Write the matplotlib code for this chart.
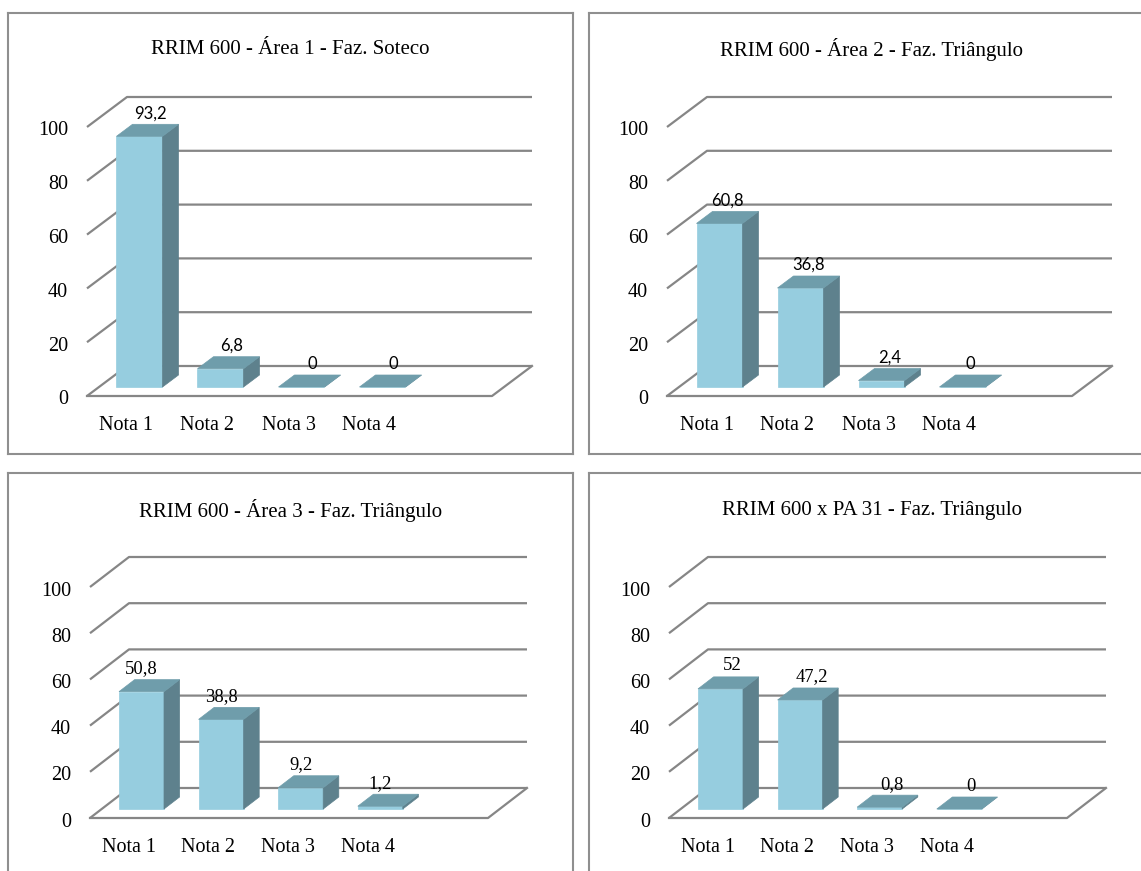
import matplotlib.pyplot as plt
from matplotlib.patches import Polygon

# dados dos quatro gráficos (porcentagem de plantas por nota)
categorias = ["Nota 1", "Nota 2", "Nota 3", "Nota 4"]
titulos = [
    "RRIM 600 - Área 1 - Faz. Soteco",
    "RRIM 600 - Área 2 - Faz. Triângulo",
    "RRIM 600 - Área 3 - Faz. Triângulo",
    "RRIM 600 x PA 31 - Faz. Triângulo",
]
area1 = [93.2, 6.8, 0, 0]
area2 = [60.8, 36.8, 2.4, 0]
area3 = [50.8, 38.8, 9.2, 1.2]
pa31 = [52, 47.2, 0.8, 0]
yticks = [0, 20, 40, 60, 80, 100]

series = [area1, area2, area3, pa31]

# cores das faces das colunas 3D
COR_FRENTE = "#96cddf"
COR_TOPO = "#6f9dab"
COR_LADO = "#5e818d"
COR_GRADE = "#868686"
COR_BORDA = "#8f8f8f"

SERIF = "Liberation Serif"
SANS = "Lato"

W_FIG, H_FIG = 1141, 871

# caixa (esq, topo, dir, base) em pixels, origem do piso, largura da categoria,
# pixels por unidade, profundidade (dx, dy), fonte dos rótulos e deslocamento
paineis = [
    dict(box=(8, 13, 573, 454), origem=(87, 396), slot=81, k=2.69, prof=(40, 30),
         fonte=SANS, fs=12, dx=11, bw=46),
    dict(box=(589, 13, 1154, 454), origem=(667, 396), slot=81, k=2.69, prof=(40, 30),
         fonte=SANS, fs=12, dx=8, bw=46),
    dict(box=(8, 473, 573, 914), origem=(90, 818), slot=79.6, k=2.31, prof=(39, 30),
         fonte=SERIF, fs=13.4, dx=0, bw=45),
    dict(box=(589, 473, 1154, 914), origem=(669, 818), slot=79.6, k=2.31, prof=(39, 30),
         fonte=SERIF, fs=13.4, dx=12, bw=45),
]

N_SLOTS = 5      # largura do piso em categorias
D0, D1 = 0.3, 0.7  # faixa de profundidade ocupada pelas colunas


def fmt(v):
    return f"{v:g}".replace(".", ",")


def grafico(fig, cfg, valores, titulo):
    L, T, R, B = cfg["box"]
    x0, y0 = cfg["origem"]
    W, k = cfg["slot"], cfg["k"]
    ax = fig.add_axes([L / W_FIG, 1 - B / H_FIG, (R - L) / W_FIG, (B - T) / H_FIG])
    ax.set_xlim((L - x0) / W, (R - x0) / W)
    ax.set_ylim((y0 - B) / k, (y0 - T) / k)
    ax.set_xticks([])
    ax.set_yticks([])
    for s in ax.spines.values():
        s.set_color(COR_BORDA)
        s.set_linewidth(1.5)

    ddx = cfg["prof"][0] / W
    ddy = cfg["prof"][1] / k
    n = N_SLOTS

    # parede lateral e parede do fundo
    for t in yticks:
        ax.plot([0, ddx, n + ddx], [t, t + ddy, t + ddy], color=COR_GRADE, lw=1.6,
                solid_capstyle="butt", zorder=1)
        ax.annotate(str(t), xy=(0, t), xytext=(-19, -4), textcoords="offset pixels",
                    ha="right", va="center", fontsize=14.5, family=SERIF)
    # piso
    ax.plot([0, n, n + ddx], [0, 0, ddy], color=COR_GRADE, lw=1.6, zorder=1)

    hw = cfg["bw"] / 2 / W
    sx = (D1 - D0) * ddx
    sy = (D1 - D0) * ddy
    for i, v in enumerate(valores):
        c = i + 0.5
        xl, xr = c - hw + D0 * ddx, c + hw + D0 * ddx
        yb, yt = D0 * ddy, v + D0 * ddy
        frente = [(xl, yb), (xr, yb), (xr, yt), (xl, yt)]
        lado = [(xr, yb), (xr + sx, yb + sy), (xr + sx, yt + sy), (xr, yt)]
        topo = [(xl, yt), (xr, yt), (xr + sx, yt + sy), (xl + sx, yt + sy)]
        for pts, cor in [(frente, COR_FRENTE), (lado, COR_LADO), (topo, COR_TOPO)]:
            ax.add_patch(Polygon(pts, closed=True, facecolor=cor, edgecolor=cor,
                                 lw=0.5, zorder=3))
        ax.annotate(fmt(v), xy=((xl + xr) / 2, yt + sy), xytext=(cfg["dx"], 11),
                    textcoords="offset pixels", ha="center", va="center",
                    fontsize=cfg["fs"], family=cfg["fonte"], zorder=4)
        ax.annotate(categorias[i], xy=(c, 0), xytext=(-1, -29), textcoords="offset pixels",
                    ha="center", va="center", fontsize=14.5, family=SERIF)

    ax.annotate(titulo, xy=(0.5, 1), xycoords="axes fraction", xytext=(0, -37),
                textcoords="offset pixels", ha="center", va="center",
                fontsize=15, family=SERIF)


fig = plt.figure(figsize=(W_FIG / 100, H_FIG / 100), dpi=100)
for cfg, valores, titulo in zip(paineis, series, titulos):
    grafico(fig, cfg, valores, titulo)

fig.savefig("out.png", dpi=100)
